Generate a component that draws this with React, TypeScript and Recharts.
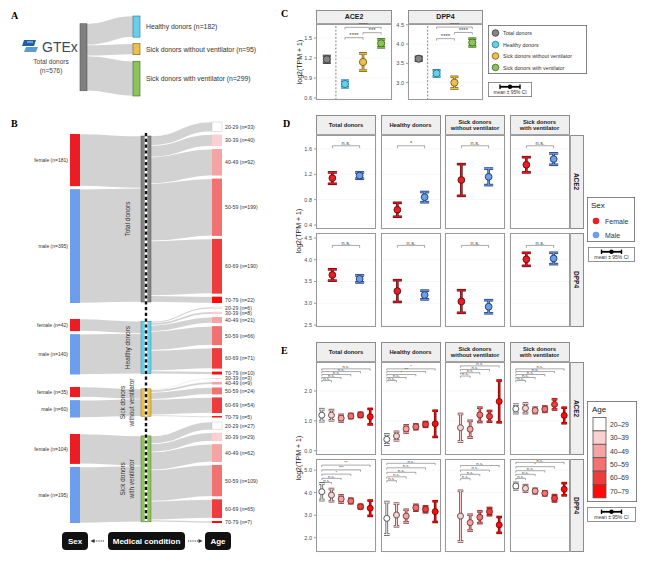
import React from 'react';
import { Sankey, ScatterChart, Scatter, XAxis, YAxis, CartesianGrid, ErrorBar, ReferenceLine } from 'recharts';

const FONT = '"Liberation Sans", Arial, sans-serif';
const SERIF = '"Liberation Serif", "Times New Roman", serif';

// donor counts (panels A and B)
const groupNames = ['Total donors', 'Healthy donors', 'Sick donors without ventilator', 'Sick donors with ventilator'];
const groupLines = [['Total donors'], ['Healthy donors'], ['Sick donors', 'without ventilator'], ['Sick donors', 'with ventilator']];
const groupCounts = [576, 182, 95, 299];
const femaleCounts = [181, 42, 35, 104];
const maleCounts = [395, 140, 60, 195];
const ageBands = ['20-29', '30-39', '40-49', '50-59', '60-69', '70-79'];
const ageCountsTotal = [33, 40, 92, 199, 190, 22];
const ageCountsHealthy = [6, 8, 21, 66, 71, 10];
const ageCountsSickNoVent = [0, 3, 9, 24, 54, 5];
const ageCountsSickVent = [27, 29, 62, 109, 65, 7];

// panel C: expression by medical condition
const condAce2Mean = [1.18, 0.81, 1.14, 1.42];
const condAce2Ci = [0.05, 0.05, 0.13, 0.06];
const condDpp4Mean = [3.62, 3.24, 3.0, 4.04];
const condDpp4Ci = [0.05, 0.08, 0.15, 0.1];
const condAce2Sig: [number, number, number, string][] = [[2, 3, 1.505, '****'], [3, 4, 1.58, '***'], [2, 4, 1.66, '****']];
const condDpp4Sig: [number, number, number, string][] = [[2, 3, 4.14, '****'], [3, 4, 4.3, '****'], [2, 4, 4.44, '****']];

// panel D: by sex
const sexLabels = ['Female', 'Male'];
const sexAce2FemaleMean = [1.14, 0.64, 1.11, 1.35];
const sexAce2FemaleCi = [0.09, 0.11, 0.25, 0.12];
const sexAce2MaleMean = [1.18, 0.84, 1.16, 1.44];
const sexAce2MaleCi = [0.05, 0.08, 0.13, 0.09];
const sexDpp4FemaleMean = [3.65, 3.28, 3.04, 4.01];
const sexDpp4FemaleCi = [0.13, 0.25, 0.26, 0.15];
const sexDpp4MaleMean = [3.56, 3.19, 2.92, 4.03];
const sexDpp4MaleCi = [0.08, 0.1, 0.15, 0.13];
const sexAce2Sig = ['n.s.', '*', 'n.s.', 'n.s.'];
const sexDpp4Sig = ['n.s.', 'n.s.', 'n.s.', 'n.s.'];
const sexAce2SigLevel = 1.65;
const sexDpp4SigLevel = 4.33;

// panel E: by age band, one row per facet
const ageAce2Mean = [
  [1.19, 1.19, 1.09, 1.16, 1.2, 1.14],
  [0.38, 0.49, 0.73, 0.8, 0.88, 0.9],
  [null, 0.77, 0.72, 1.2, 1.15, 1.65],
  [1.4, 1.42, 1.35, 1.39, 1.55, 1.18],
];
const ageAce2Ci = [
  [0.2, 0.17, 0.11, 0.07, 0.07, 0.26],
  [0.17, 0.14, 0.12, 0.08, 0.08, 0.44],
  [null, 0.46, 0.28, 0.24, 0.18, 0.7],
  [0.14, 0.16, 0.09, 0.09, 0.17, 0.26],
];
const ageDpp4Mean = [
  [4.04, 3.89, 3.72, 3.63, 3.38, 3.31],
  [2.86, 3.01, 2.96, 3.33, 3.26, 3.16],
  [null, 2.96, 2.67, 2.91, 3.16, 2.57],
  [4.29, 4.19, 4.07, 3.97, 3.75, 4.15],
];
const ageDpp4Ci = [
  [0.37, 0.27, 0.16, 0.1, 0.08, 0.34],
  [0.72, 0.5, 0.28, 0.13, 0.13, 0.46],
  [null, 1.12, 0.35, 0.26, 0.16, 0.35],
  [0.14, 0.14, 0.1, 0.09, 0.14, 0.27],
];
const ageAce2Sig = [
  ['n.s.', 'n.s.', 'n.s.', 'n.s.', 'n.s.'],
  ['n.s.', 'n.s.', '*', '**', '*'],
  ['n.s.', 'n.s.', 'n.s.', 'n.s.'],
  ['n.s.', 'n.s.', 'n.s.', 'n.s.', 'n.s.'],
];
const ageDpp4Sig = [
  ['n.s.', 'n.s.', '*', '***', '**'],
  ['n.s.', 'n.s.', 'n.s.', 'n.s.', 'n.s.'],
  ['n.s.', 'n.s.', 'n.s.', 'n.s.'],
  ['n.s.', 'n.s.', 'n.s.', '*', 'n.s.'],
];
const ageAce2SigLevels = [
  [2.35, 2.45, 2.55, 2.65, 2.74],
  [2.35, 2.45, 2.55, 2.65, 2.74],
  [2.5, 2.61, 2.72, 2.84],
  [2.35, 2.45, 2.55, 2.65, 2.74],
];
const ageDpp4SigLevels = [
  [4.45, 4.63, 4.82, 5.01, 5.22],
  [4.53, 4.7, 4.9, 5.1, 5.3],
  [4.62, 4.81, 5.0, 5.2],
  [4.63, 4.81, 4.97, 5.15, 5.34],
];

const groupColors = ['#858585', '#66cfee', '#ebc14c', '#8cc45a'];
const groupEdges = ['#3a3a3a', '#23778e', '#7a5b12', '#3e6a1f'];
const sexColors = ['#ec1c24', '#6d9eeb'];
const sexEdges = ['#5c0b0b', '#1f3763'];
const ageColors = ['#ffffff', '#fbd0d0', '#f6a3a3', '#f27272', '#ee3b3b', '#ff0a0a'];
const ageEdges = ['#4a4a4a', '#5f4545', '#6e3838', '#772a2a', '#7a1b1b', '#7d0808'];

type Pt = { x: number; y: number; ci: number };
type Mark = { pt: Pt; fill: string; edge: string };
type Bracket = { x1: number; x2: number; y: number; label: string };

const dot = (fill: string, edge: string, r: number) => (p: any) =>
  p.cx == null ? <g /> : <circle cx={p.cx} cy={p.cy} r={r} fill={fill} stroke={edge} strokeWidth={0.9} />;

function Facet(props: {
  left: number; top: number; w: number; h: number;
  xDomain: [number, number]; xTicks: number[];
  yDomain: [number, number]; yTicks: number[];
  marks: Mark[]; brackets?: Bracket[]; divider?: number;
  showY?: boolean; showX?: boolean; r: number; cap: number; sigSize: number; tickPx: number;
}) {
  const { left, top, w, h, xDomain, xTicks, yDomain, yTicks, marks, brackets = [], divider, showY, showX, r, cap, sigSize, tickPx } = props;
  const yw = showY ? 14 : 0;
  const xh = showX ? 4 : 0;
  const drop = ((yDomain[1] - yDomain[0]) * tickPx) / h;
  return (
    <>
      <div style={{ position: 'absolute', left: left - yw, top, width: w + yw, height: h + xh }}>
        <ScatterChart width={w + yw} height={h + xh} margin={{ top: 0, right: 0, bottom: 0, left: 0 }}>
          <CartesianGrid stroke="#ededed" strokeWidth={0.5} />
          <XAxis type="number" dataKey="x" domain={xDomain} ticks={xTicks} hide={!showX} height={xh} tick={false}
            tickSize={2} axisLine={false} tickLine={{ stroke: '#555', strokeWidth: 0.6 }} allowDataOverflow />
          <YAxis type="number" dataKey="y" domain={yDomain} ticks={yTicks} hide={!showY} width={yw} interval={0}
            tickSize={2} axisLine={false} tickLine={{ stroke: '#555', strokeWidth: 0.6 }} allowDataOverflow
            tickFormatter={(v: number) => v.toFixed(1)}
            tick={{ fontSize: 5.5, fill: '#4d4d4d', fontFamily: FONT }} />
          {divider !== undefined && (
            <ReferenceLine x={divider} stroke="#555" strokeWidth={0.7} strokeDasharray="2 1.6" />
          )}
          {brackets.map((b, i) => (
            <React.Fragment key={`b${i}`}>
              <ReferenceLine segment={[{ x: b.x1, y: b.y }, { x: b.x2, y: b.y }]} stroke="#555" strokeWidth={0.5} ifOverflow="visible"
                label={{ value: b.label, position: 'top', fontSize: sigSize, fill: '#444', offset: 0.6, fontFamily: FONT }} />
              <ReferenceLine segment={[{ x: b.x1, y: b.y }, { x: b.x1, y: b.y - drop }]} stroke="#555" strokeWidth={0.5} ifOverflow="visible" />
              <ReferenceLine segment={[{ x: b.x2, y: b.y }, { x: b.x2, y: b.y - drop }]} stroke="#555" strokeWidth={0.5} ifOverflow="visible" />
            </React.Fragment>
          ))}
          {marks.map((m, i) => (
            <Scatter key={i} data={[m.pt]} isAnimationActive={false} shape={dot(m.fill, m.edge, r)}>
              <ErrorBar dataKey="ci" direction="y" width={cap} strokeWidth={2.6} stroke={m.edge} />
              <ErrorBar dataKey="ci" direction="y" width={cap} strokeWidth={1.1} stroke={m.fill} />
            </Scatter>
          ))}
        </ScatterChart>
      </div>
      <div style={{ position: 'absolute', left, top, width: w, height: h, border: '0.8px solid #9a9a9a', boxSizing: 'border-box', pointerEvents: 'none' }} />
    </>
  );
}

function Strip({ left, top, w, h, lines, size, vertical }: { left: number; top: number; w: number; h: number; lines: string[]; size: number; vertical?: boolean }) {
  return (
    <div style={{
      position: 'absolute', left, top, width: w, height: h, boxSizing: 'border-box', border: '0.8px solid #8c8c8c',
      background: '#efefef', display: 'flex', alignItems: 'center', justifyContent: 'center', fontWeight: 700,
      fontSize: size, lineHeight: 1.1, color: '#1a1a1a', textAlign: 'center', whiteSpace: 'nowrap',
    }}>
      <div style={vertical ? { transform: 'rotate(90deg)' } : undefined}>
        {lines.map((l) => <div key={l}>{l}</div>)}
      </div>
    </div>
  );
}

function CiKey({ left, top, w, h, size }: { left: number; top: number; w: number; h: number; size: number }) {
  const c = w / 2;
  return (
    <svg width={w} height={h} style={{ position: 'absolute', left, top }}>
      <rect x={0.4} y={0.4} width={w - 0.8} height={h - 0.8} fill="#fff" stroke="#777" strokeWidth={0.8} />
      <line x1={c - 10} x2={c + 10} y1={4.8} y2={4.8} stroke="#000" strokeWidth={1.8} />
      <line x1={c - 10} x2={c - 10} y1={2.6} y2={7} stroke="#000" strokeWidth={1.4} />
      <line x1={c + 10} x2={c + 10} y1={2.6} y2={7} stroke="#000" strokeWidth={1.4} />
      <circle cx={c} cy={4.8} r={2.2} fill="#000" />
      <text x={c} y={h - 2.6} textAnchor="middle" fontSize={size} fill="#333" fontFamily={FONT}>mean ± 95% CI</text>
    </svg>
  );
}

function YTitle({ x, y }: { x: number; y: number }) {
  return (
    <div style={{ position: 'absolute', left: x, top: y, transform: 'translate(-50%, -50%) rotate(-90deg)', whiteSpace: 'nowrap', fontSize: 7, color: '#1a1a1a' }}>
      log2(TPM + 1)
    </div>
  );
}

function Letter({ x, y, t }: { x: number; y: number; t: string }) {
  return <div style={{ position: 'absolute', left: x, top: y, fontFamily: SERIF, fontWeight: 700, fontSize: 10, lineHeight: 1 }}>{t}</div>;
}

// ---------- Sankey helpers ----------
const grayLink = (p: any) => {
  const { sourceX, targetX, sourceY, targetY, sourceControlX, targetControlX, linkWidth } = p;
  return (
    <path d={`M${sourceX},${sourceY}C${sourceControlX},${sourceY} ${targetControlX},${targetY} ${targetX},${targetY}`}
      fill="none" stroke="#d2d2d2" strokeWidth={Math.max(linkWidth - 0.7, 0.35)} />
  );
};

const aNode = (p: any) => {
  const { x, y, width, height, payload } = p;
  return (
    <g>
      <rect x={x} y={y} width={width} height={height} fill={payload.color} stroke={payload.edge} strokeWidth={0.6} />
      {payload.depth > 0 && (
        <text x={x + width + 6} y={y + height / 2} dominantBaseline="central" fontSize={6.8} fill="#333" fontFamily={FONT}>{payload.label}</text>
      )}
    </g>
  );
};

const bNode = (p: any) => {
  const { x, y, width, height, payload } = p;
  const cx = x + width / 2;
  const lines: string[] = payload.lines || [];
  return (
    <g>
      <rect x={x} y={y} width={width} height={Math.max(height, 0.8)} fill={payload.color} stroke={payload.edge} strokeWidth={0.4} />
      {payload.side === 'mid' && <line x1={cx} x2={cx} y1={y} y2={y + height} stroke="#fff" strokeWidth={2.6} />}
      {payload.side === 'left' && (
        <text x={x - 2} y={y + height / 2} textAnchor="end" dominantBaseline="central" fontSize={5} fill="#333" fontFamily={FONT}>{payload.label}</text>
      )}
      {payload.side === 'right' && (
        <text x={x + width + 3} y={y + height / 2} dominantBaseline="central" fontSize={5.2} fill="#333" fontFamily={FONT}>{payload.label}</text>
      )}
      {payload.side === 'mid' && lines.map((ln, i) => (
        <text key={ln} transform={`translate(${x - 14 + (i - (lines.length - 1) / 2) * 8.5},${y + height / 2}) rotate(-90)`}
          textAnchor="middle" dominantBaseline="central" fontSize={6.4} fill="#333" fontFamily={FONT}>{ln}</text>
      ))}
    </g>
  );
};

const gtexData = {
  nodes: [
    { name: 'total', color: '#7f7f7f', edge: '#555' },
    ...groupNames.slice(1).map((g, i) => ({ name: g, label: `${g} (n=${groupCounts[i + 1]})`, color: groupColors[i + 1], edge: groupEdges[i + 1] })),
  ],
  links: groupCounts.slice(1).map((v, i) => ({ source: 0, target: i + 1, value: v })),
};

function groupSankey(g: number) {
  const ages = [ageCountsTotal, ageCountsHealthy, ageCountsSickNoVent, ageCountsSickVent][g];
  const nodes: any[] = [
    { name: 'female', label: `female (n=${femaleCounts[g]})`, color: sexColors[0], edge: 'none', side: 'left' },
    { name: 'male', label: `male (n=${maleCounts[g]})`, color: sexColors[1], edge: 'none', side: 'left' },
    { name: groupNames[g], lines: groupLines[g], color: groupColors[g], edge: groupEdges[g], side: 'mid' },
  ];
  const links: any[] = [
    { source: 0, target: 2, value: femaleCounts[g] },
    { source: 1, target: 2, value: maleCounts[g] },
  ];
  ageBands.forEach((band, i) => {
    if (!ages[i]) return;
    links.push({ source: 2, target: nodes.length, value: ages[i] });
    nodes.push({ name: band, label: `${band} (n=${ages[i]})`, color: ageColors[i], edge: i === 0 ? '#bbb' : 'none', side: 'right' });
  });
  return { nodes, links };
}

// plot boxes of the four Sankey groups in panel B (top, height)
const bBoxes = [[122, 181], [307, 67.5], [378, 39.5], [422, 101]];

const facetLefts = [316, 380.5, 445, 509.5];
const FW = 60;

function sexMarks(g: number, gene: 'ACE2' | 'DPP4'): Mark[] {
  const fm = gene === 'ACE2' ? sexAce2FemaleMean : sexDpp4FemaleMean;
  const fc = gene === 'ACE2' ? sexAce2FemaleCi : sexDpp4FemaleCi;
  const mm = gene === 'ACE2' ? sexAce2MaleMean : sexDpp4MaleMean;
  const mc = gene === 'ACE2' ? sexAce2MaleCi : sexDpp4MaleCi;
  return [
    { pt: { x: 1, y: fm[g], ci: fc[g] }, fill: sexColors[0], edge: sexEdges[0] },
    { pt: { x: 2, y: mm[g], ci: mc[g] }, fill: sexColors[1], edge: sexEdges[1] },
  ];
}

function ageMarks(g: number, gene: 'ACE2' | 'DPP4'): Mark[] {
  const means = (gene === 'ACE2' ? ageAce2Mean : ageDpp4Mean)[g];
  const cis = (gene === 'ACE2' ? ageAce2Ci : ageDpp4Ci)[g];
  const out: Mark[] = [];
  means.forEach((m, i) => {
    if (m == null) return;
    out.push({ pt: { x: i + 1, y: m, ci: cis[i] as number }, fill: ageColors[i], edge: ageEdges[i] });
  });
  return out;
}

function ageBrackets(g: number, gene: 'ACE2' | 'DPP4'): Bracket[] {
  const labels = (gene === 'ACE2' ? ageAce2Sig : ageDpp4Sig)[g];
  const levels = (gene === 'ACE2' ? ageAce2SigLevels : ageDpp4SigLevels)[g];
  const base = 6 - labels.length;
  return labels.map((lab, i) => ({ x1: base, x2: base + i + 1, y: levels[i], label: lab }));
}

export default function App() {
  return (
    <div style={{ position: 'absolute', left: 0, top: 0, width: 650, height: 568, background: '#fff', overflow: 'hidden', fontFamily: FONT }}>
      <style>{'.recharts-surface{overflow:visible}'}</style>
      {/* ---------- A ---------- */}
      <Letter x={11} y={11} t="A" />
      <svg width={60} height={18} style={{ position: 'absolute', left: 22, top: 37 }}>
        <path d="M2,3 L14,3 L12,9 L0,9 Z" fill="#1f5fa8" />
        <path d="M4,10 L16,10 L14,15 L2,15 Z" fill="#5b9bd5" />
        <path d="M5,5 L11,5" stroke="#fff" strokeWidth={0.8} />
        <text x={20} y={14.5} fontSize={14} fill="#3b4a5c" fontFamily={FONT}>GTEx</text>
      </svg>
      <div style={{ position: 'absolute', left: 21, top: 57, width: 60, textAlign: 'center', fontSize: 6.5, lineHeight: 1.45, color: '#444' }}>
        Total donors<br />(n={groupCounts[0]})
      </div>
      <div style={{ position: 'absolute', left: 0, top: 12 }}>
        <Sankey width={300} height={90} data={gtexData} nodeWidth={7} nodePadding={6.5} iterations={1} sort={false}
          margin={{ left: 80, right: 160, top: 4, bottom: 6 }} node={aNode} link={grayLink} />
      </div>

      {/* ---------- B ---------- */}
      <Letter x={11} y={119} t="B" />
      {bBoxes.map(([top, h], g) => (
        <div key={g} style={{ position: 'absolute', left: 0, top: top - 6 }}>
          <Sankey width={300} height={h + 12} data={groupSankey(g)} nodeWidth={10} nodePadding={3} iterations={1} sort={false}
            margin={{ left: 70, right: 78, top: 6, bottom: 6 }} node={bNode} link={grayLink} />
        </div>
      ))}
      <svg width={6} height={395} style={{ position: 'absolute', left: 143, top: 130 }}>
        <line x1={3} x2={3} y1={3} y2={392} stroke="#111" strokeWidth={2.4} strokeDasharray="3.2 2.6" />
      </svg>
      {[['Sex', 62, 26], ['Medical condition', 108, 77], ['Age', 205, 26]].map(([t, l, w]) => (
        <div key={t as string} style={{
          position: 'absolute', left: l as number, top: 532, width: w as number, height: 18, borderRadius: 4, background: '#111',
          color: '#fff', fontWeight: 700, fontSize: 8, display: 'flex', alignItems: 'center', justifyContent: 'center',
        }}>{t}</div>
      ))}
      <svg width={300} height={20} style={{ position: 'absolute', left: 0, top: 531 }}>
        <line x1={94} x2={105} y1={10} y2={10} stroke="#333" strokeWidth={1} strokeDasharray="1.2 1" />
        <path d="M90.5,10 L94.5,8 L94.5,12 Z" fill="#333" />
        <line x1={188} x2={199} y1={10} y2={10} stroke="#333" strokeWidth={1} strokeDasharray="1.2 1" />
        <path d="M202.5,10 L198.5,8 L198.5,12 Z" fill="#333" />
      </svg>

      {/* ---------- C ---------- */}
      <Letter x={281} y={9} t="C" />
      <YTitle x={299} y={62} />
      <Strip left={316} top={10} w={76} h={14} lines={['ACE2']} size={7} />
      <Strip left={408} top={10} w={75} h={14} lines={['DPP4']} size={7} />
      <Facet left={316} top={24} w={76} h={76} xDomain={[0.4, 4.6]} xTicks={[1, 2, 3, 4]} yDomain={[0.57, 1.71]} yTicks={[0.6, 0.9, 1.2, 1.5]}
        showY showX r={3.6} cap={4} sigSize={6} tickPx={2} divider={1.5}
        marks={condAce2Mean.map((m, i) => ({ pt: { x: i + 1, y: m, ci: condAce2Ci[i] }, fill: groupColors[i], edge: groupEdges[i] }))}
        brackets={condAce2Sig.map(([x1, x2, y, label]) => ({ x1, x2, y, label }))} />
      <Facet left={408} top={24} w={75} h={76} xDomain={[0.4, 4.6]} xTicks={[1, 2, 3, 4]} yDomain={[2.55, 4.52]} yTicks={[3.0, 3.5, 4.0, 4.5]}
        showY showX r={3.6} cap={4} sigSize={6} tickPx={2} divider={1.5}
        marks={condDpp4Mean.map((m, i) => ({ pt: { x: i + 1, y: m, ci: condDpp4Ci[i] }, fill: groupColors[i], edge: groupEdges[i] }))}
        brackets={condDpp4Sig.map(([x1, x2, y, label]) => ({ x1, x2, y, label }))} />
      <svg width={99} height={49} style={{ position: 'absolute', left: 488, top: 25 }}>
        <rect x={0.4} y={0.4} width={98.2} height={48.2} fill="#fff" stroke="#666" strokeWidth={0.8} />
        {groupNames.map((g, i) => (
          <g key={g}>
            <circle cx={7.5} cy={8 + i * 11.5} r={3.3} fill={groupColors[i]} stroke={groupEdges[i]} strokeWidth={0.8} />
            <text x={15} y={8 + i * 11.5} dominantBaseline="central" fontSize={5.3} fill="#333" fontFamily={FONT}>{g}</text>
          </g>
        ))}
      </svg>
      <CiKey left={488} top={82} w={44} h={15} size={4.8} />

      {/* ---------- D ---------- */}
      <Letter x={283} y={119} t="D" />
      <YTitle x={298} y={231} />
      {groupLines.map((lines, g) => (
        <Strip key={g} left={facetLefts[g]} top={115} w={FW} h={20} lines={lines} size={5.8} />
      ))}
      <Strip left={569.5} top={135} w={14} h={94} lines={['ACE2']} size={6.5} vertical />
      <Strip left={569.5} top={233} w={14} h={94} lines={['DPP4']} size={6.5} vertical />
      {groupNames.map((_, g) => (
        <React.Fragment key={g}>
          <Facet left={facetLefts[g]} top={135} w={FW} h={94} xDomain={[0.4, 2.6]} xTicks={[1, 2]} yDomain={[0.337, 1.82]} yTicks={[0.4, 0.8, 1.2, 1.6]}
            showY={g === 0} r={3.4} cap={4.5} sigSize={5.5} tickPx={2.5} marks={sexMarks(g, 'ACE2')}
            brackets={[{ x1: 1, x2: 2, y: sexAce2SigLevel, label: sexAce2Sig[g] }]} />
          <Facet left={facetLefts[g]} top={233} w={FW} h={94} xDomain={[0.4, 2.6]} xTicks={[1, 2]} yDomain={[2.454, 4.615]} yTicks={[2.5, 3.0, 3.5, 4.0, 4.5]}
            showY={g === 0} showX r={3.4} cap={4.5} sigSize={5.5} tickPx={2.5} marks={sexMarks(g, 'DPP4')}
            brackets={[{ x1: 1, x2: 2, y: sexDpp4SigLevel, label: sexDpp4Sig[g] }]} />
        </React.Fragment>
      ))}
      <svg width={48} height={45} style={{ position: 'absolute', left: 587, top: 197 }}>
        <rect x={0.4} y={0.4} width={47.2} height={44.2} fill="#fff" stroke="#666" strokeWidth={0.8} />
        <text x={4} y={11} fontSize={8} fill="#222" fontFamily={FONT}>Sex</text>
        {sexLabels.map((s, i) => (
          <g key={s}>
            <circle cx={9} cy={24 + i * 14} r={3.3} fill={sexColors[i]} />
            <text x={18} y={24 + i * 14} dominantBaseline="central" fontSize={7} fill="#333" fontFamily={FONT}>{s}</text>
          </g>
        ))}
      </svg>
      <CiKey left={588} top={247} w={47} h={15} size={5} />

      {/* ---------- E ---------- */}
      <Letter x={281} y={346} t="E" />
      <YTitle x={298} y={458} />
      {groupLines.map((lines, g) => (
        <Strip key={g} left={facetLefts[g]} top={342} w={FW} h={20} lines={lines} size={5.8} />
      ))}
      <Strip left={569.5} top={362} w={14.5} h={93} lines={['ACE2']} size={6.5} vertical />
      <Strip left={569.5} top={459} w={14.5} h={93} lines={['DPP4']} size={6.5} vertical />
      {groupNames.map((_, g) => (
        <React.Fragment key={g}>
          <Facet left={facetLefts[g]} top={362} w={FW} h={93} xDomain={[0.4, 6.6]} xTicks={[1, 2, 3, 4, 5, 6]} yDomain={[-0.144, 2.97]} yTicks={[0, 1, 2]}
            showY={g === 0} r={3} cap={2.8} sigSize={4.3} tickPx={1.8} marks={ageMarks(g, 'ACE2')} brackets={ageBrackets(g, 'ACE2')} />
          <Facet left={facetLefts[g]} top={459} w={FW} h={93} xDomain={[0.4, 6.6]} xTicks={[1, 2, 3, 4, 5, 6]} yDomain={[1.37, 5.49]} yTicks={[2, 3, 4, 5]}
            showY={g === 0} showX r={3} cap={2.8} sigSize={4.3} tickPx={1.8} marks={ageMarks(g, 'DPP4')} brackets={ageBrackets(g, 'DPP4')} />
        </React.Fragment>
      ))}
      <svg width={50} height={101} style={{ position: 'absolute', left: 587, top: 401 }}>
        <rect x={0.4} y={0.4} width={49.2} height={100.2} fill="#fff" stroke="#666" strokeWidth={0.8} />
        <text x={5} y={11} fontSize={8} fill="#222" fontFamily={FONT}>Age</text>
        {ageBands.map((a, i) => (
          <g key={a}>
            <rect x={6} y={16.5 + i * 13.4} width={13} height={13.4} fill={ageColors[i]} stroke="#555" strokeWidth={0.8} />
            <text x={23} y={23.2 + i * 13.4} dominantBaseline="central" fontSize={6.8} fill="#333" fontFamily={FONT}>{a.replace('-', '–')}</text>
          </g>
        ))}
      </svg>
      <CiKey left={587} top={507} w={49} h={15} size={5} />
    </div>
  );
}
